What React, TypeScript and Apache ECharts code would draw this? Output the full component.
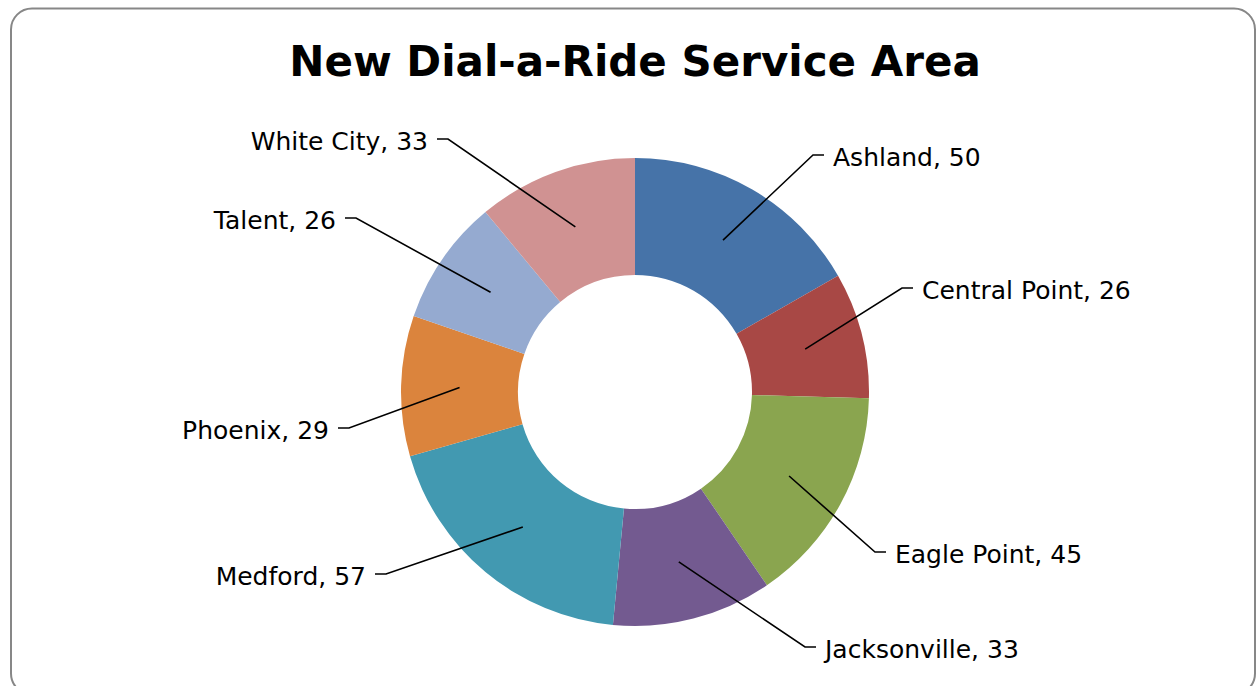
import React, { useEffect, useRef } from 'react';
import * as echarts from 'echarts';

// ---- data ----
const categories = ['Ashland', 'Central Point', 'Eagle Point', 'Jacksonville', 'Medford', 'Phoenix', 'Talent', 'White City'];
const values = [50, 26, 45, 33, 57, 29, 26, 33];
const colors = ['#4673A8', '#A84845', '#8AA54F', '#735A90', '#4299B1', '#DB843D', '#95AAD0', '#D09292'];
const titleText = 'New Dial-a-Ride Service Area';

// ---- layout (not data): label-line end points, relative to the pie centre ----
const CX = 635;
const CY = 392;
const labelEnds: number[][] = [
  [189, -237],
  [278, -104],
  [251, 160],
  [181, 255],
  [-260, 182],
  [-297, 36],
  [-290, -174],
  [-198, -253],
];

const FONT = '"DejaVu Sans", "Noto Sans", sans-serif';

export default function App() {
  const ref = useRef<HTMLDivElement>(null);
  useEffect(() => {
    if (!ref.current) return;
    const chart = echarts.init(ref.current, undefined, { renderer: 'svg' });
    const pieData = categories.map((name, i) => ({ name, value: values[i], itemStyle: { color: colors[i] } }));
    chart.setOption({
      animation: false,
      backgroundColor: '#ffffff',
      graphic: [
        {
          type: 'rect',
          shape: { x: 11, y: 8.5, width: 1244, height: 686, r: 21 },
          style: { fill: 'none', stroke: '#878787', lineWidth: 2 },
          silent: true,
          z: 0,
        },
        {
          type: 'text',
          x: CX,
          y: 61,
          style: {
            text: titleText,
            fontFamily: FONT,
            fontSize: 42,
            fontWeight: 'bold',
            fill: '#000000',
            align: 'center',
            verticalAlign: 'middle',
          },
          silent: true,
          z: 10,
        },
      ],
      series: [
        {
          type: 'pie',
          center: [CX, CY],
          radius: [117, 234],
          startAngle: 90,
          clockwise: true,
          silent: true,
          emphasis: { disabled: true },
          label: { show: false },
          labelLine: { show: false },
          itemStyle: { borderWidth: 0 },
          data: pieData,
          z: 2,
        },
        {
          type: 'pie',
          center: [CX, CY],
          radius: [0, 175.5],
          startAngle: 90,
          clockwise: true,
          silent: true,
          avoidLabelOverlap: false,
          emphasis: { disabled: true },
          itemStyle: { color: 'rgba(0,0,0,0)', borderWidth: 0 },
          label: {
            show: true,
            position: 'outside',
            formatter: '{b}, {c}',
            fontFamily: FONT,
            fontSize: 25,
            color: '#000000',
          },
          labelLine: {
            show: true,
            length: 20,
            length2: 10,
            lineStyle: { color: '#000000', width: 1.6 },
          },
          labelLayout: (p: any) => {
            const i = p.dataIndex;
            const [ex, ey] = labelEnds[i];
            const right = ex > 0;
            const endX = CX + ex;
            const endY = CY + ey;
            const elbowX = endX + (right ? -11 : 11);
            const anchor = p.labelLinePoints && p.labelLinePoints[0] ? p.labelLinePoints[0] : [CX, CY];
            return {
              x: endX + (right ? 9 : -9),
              y: endY + 2,
              align: right ? 'left' : 'right',
              verticalAlign: 'middle',
              labelLinePoints: [anchor, [elbowX, endY], [endX, endY]],
            };
          },
          data: categories.map((name, i) => ({ name, value: values[i] })),
          z: 3,
        },
      ],
    });
    return () => chart.dispose();
  }, []);
  return (
    <div
      ref={ref}
      style={{ position: 'fixed', left: 0, top: 0, width: 1256, height: 686, background: '#fff' }}
    />
  );
}
